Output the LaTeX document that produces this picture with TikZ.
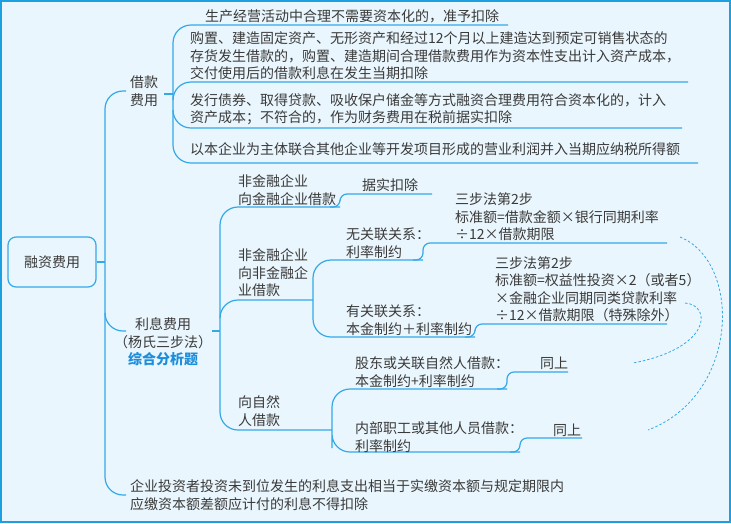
\documentclass[tikz,border=0pt]{standalone}
\usepackage{fontspec}
\setmainfont{Noto Sans CJK SC}
\definecolor{linkblue}{HTML}{33A9E8}
\definecolor{paper}{HTML}{EAF6FD}
\definecolor{frameblue}{HTML}{1CA0E2}
\definecolor{inkgray}{HTML}{3A3A3A}
\definecolor{tagblue}{HTML}{1C8EDB}

\begin{document}
\begin{tikzpicture}[x=1pt,y=-1pt,
		link/.style={draw=linkblue,line width=1.2pt,rounded corners=18pt},
		jog/.style={draw=linkblue,line width=1.2pt,rounded corners=7pt},
		hint/.style={draw=linkblue,line width=0.8pt,dash pattern=on 2.5pt off 2pt},
		txt/.style={anchor=west,inner sep=0pt,align=left,text=inkgray,font=\fontsize{14}{17.5}\selectfont}]
		\useasboundingbox (0,0) rectangle (731,523);
		\draw[fill=paper,draw=frameblue,line width=2pt] (1,1) rectangle (730,522);
		% root
		\node[draw=linkblue,line width=1.2pt,rounded corners=8pt,minimum width=88pt,minimum height=50pt,text=inkgray,font=\fontsize{14}{17.5}\selectfont] (root) at (52,262) {融资费用};
		\coordinate (trunk) at (105,262);
		\draw[link] (root.east) -- (trunk);
		% first level
		\node[txt,align=center] (jk) at (130,91) {借款\\费用};
		\node[txt,align=center,anchor=center] (lx) at (163,342) {利息费用\\（杨氏三步法）\\\textcolor{tagblue}{\bfseries 综合分析题}};
		\node[txt] (tz) at (130,495) {企业投资者投资未到位发生的利息支出相当于实缴资本额与规定期限内\\应缴资本额差额应计付的利息不得扣除};
		\coordinate (jkw) at (126,91);
		\coordinate (lxw) at (126,331);
		\coordinate (tzw) at (126,495);
		\draw[link] (jkw) -| (trunk) |- (tzw);
		\draw[link] (trunk |- lxw) ++(0,-18) |- (lxw);
		% borrowing cost
		\coordinate (jkj) at (173,94);
		\draw[link] (164,94) -- (jkj);
		\coordinate (a1e) at (508,25);
		\coordinate (a2e) at (688,82);
		\coordinate (a3e) at (682,128);
		\coordinate (a4e) at (698,163);
		\draw[link] (a1e) -| (jkj) |- (a4e);
		\draw[link] (jkj |- a2e) ++(0,18) |- (a2e);
		\draw[link] (jkj |- a3e) ++(0,-18) |- (a3e);
		\node[txt] (a1) at (205,16) {生产经营活动中合理不需要资本化的，准予扣除};
		\node[txt] (a2) at (190,56) {购置、建造固定资产、无形资产和经过12个月以上建造达到预定可销售状态的\\存货发生借款的，购置、建造期间合理借款费用作为资本性支出计入资产成本，\\交付使用后的借款利息在发生当期扣除};
		\node[txt] (a3) at (190,109) {发行债券、取得贷款、吸收保户储金等方式融资合理费用符合资本化的，计入\\资产成本；不符合的，作为财务费用在税前据实扣除};
		\node[txt] (a4) at (190,149) {以本企业为主体联合其他企业等开发项目形成的营业利润并入当期应纳税所得额};
		% interest cost
		\coordinate (lxj) at (220,331);
		\draw[link] (lx.east |- lxj) -- (lxj);
		\coordinate (b1e) at (340,207);
		\coordinate (b2e) at (313,300);
		\coordinate (b3e) at (332,430);
		\draw[link] (b1e) -| (lxj) |- (b3e);
		\draw[link] (lxj |- b2e) ++(0,18) |- (b2e);
		\node[txt] (b1) at (238,190) {非金融企业\\向金融企业借款};
		\node[txt] (b2) at (238,273) {非金融企业\\向非金融企\\业借款};
		\node[txt] (b3) at (238,411) {向自然\\人借款};
		% to financial enterprises
		\coordinate (b1c) at (432,194);
		\draw[jog] ([xshift=-10pt]b1e) -- (b1e) |- (b1c);
		\node[txt] (b1t) at (362,185) {据实扣除};
		% to non-financial enterprises
		\coordinate (c1e) at (423,260);
		\coordinate (c2e) at (475,337);
		\draw[link] (c1e) -| (b2e) |- (c2e);
		\node[txt] (c1) at (346,243) {无关联关系：\\利率制约};
		\node[txt] (c2) at (346,320) {有关联关系：\\本金制约＋利率制约};
		\coordinate (c1c) at (667,243);
		\coordinate (c2c) at (667,324);
		\draw[jog] ([xshift=-10pt]c1e) -- (c1e) |- (c1c);
		\draw[jog] ([xshift=-10pt]c2e) -- (c2e) |- (c2c);
		\node[txt] (c1t) at (455,217) {三步法第2步\\标准额=借款金额×银行同期利率\\÷12×借款期限};
		\node[txt] (c2t) at (495,289) {三步法第2步\\标准额=权益性投资×2（或者5）\\×金融企业同期同类贷款利率\\÷12×借款期限（特殊除外）};
		% to natural persons
		\coordinate (d1e) at (507,389);
		\coordinate (d2e) at (520,452);
		\draw[link] (d1e) -| (b3e) |- (d2e);
		\node[txt] (d1) at (355,372) {股东或关联自然人借款：\\本金制约+利率制约};
		\node[txt] (d2) at (355,437) {内部职工或其他人员借款：\\利率制约};
		\coordinate (d1c) at (568,372);
		\coordinate (d2c) at (582,438);
		\draw[jog] ([xshift=-10pt]d1e) -- (d1e) |- (d1c);
		\draw[jog] ([xshift=-10pt]d2e) -- (d2e) |- (d2c);
		\node[txt] (d1t) at (540,363) {同上};
		\node[txt] (d2t) at (553,430) {同上};
		% same-as-above hints
		\coordinate (h1s) at (680,237);
		\coordinate (h1e) at (648,430);
		\coordinate (h2s) at (685,303);
		\coordinate (h2e) at (633,363);
		\draw[hint] (h1s) .. controls (742,262) and (740,395) .. (h1e);
		\draw[hint] (h2s) .. controls (712,305) and (712,348) .. (h2e);
	\end{tikzpicture}
\end{document}
